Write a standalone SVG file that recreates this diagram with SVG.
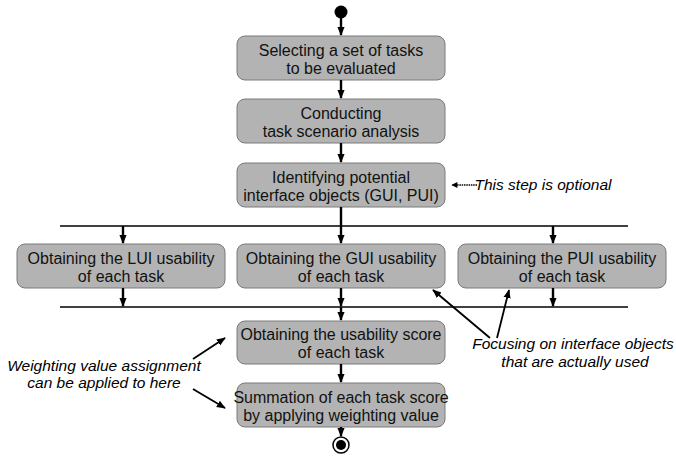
<svg xmlns="http://www.w3.org/2000/svg" width="676" height="467" viewBox="0 0 676 467">
  <defs>
    <marker id="ah" viewBox="0 0 10 10" refX="9" refY="5" markerWidth="7" markerHeight="6" orient="auto" markerUnits="userSpaceOnUse">
      <path d="M0,0 L10,5 L0,10 z" fill="#000"/>
    </marker>
    <marker id="ahs" viewBox="0 0 10 10" refX="9" refY="5" markerWidth="9" markerHeight="9" orient="auto" markerUnits="userSpaceOnUse">
      <path d="M0,1 L10,5 L0,9 z" fill="#000"/>
    </marker>
    <marker id="av" viewBox="0 0 10 10" refX="9" refY="5" markerWidth="9" markerHeight="10" orient="auto" markerUnits="userSpaceOnUse">
      <path d="M0,1 L10,5 L0,9 z" fill="#000"/>
    </marker>
  </defs>
  <style>
    .box { fill: #b3b3b3; stroke: #7a7a7a; stroke-width: 1; }
    .lbl { font-family: "Liberation Sans", Arial, sans-serif; font-size: 16px; fill: #111; text-anchor: middle; }
    .note { font-family: "Liberation Sans", Arial, sans-serif; font-size: 15.5px; font-style: italic; fill: #000; text-anchor: middle; }
    .flow { stroke: #000; stroke-width: 2.4; fill: none; marker-end: url(#av); }
    .bar { stroke: #000; stroke-width: 1.3; fill: none; }
    .ptr { stroke: #000; stroke-width: 1.8; fill: none; marker-end: url(#ahs); }
  </style>

  <g id="start"><circle cx="341" cy="12" r="6.5" fill="#000"/></g>

  <g id="select">
    <rect class="box" x="237" y="36" width="208" height="44" rx="8"/>
    <text class="lbl" x="341" y="56">Selecting a set of tasks</text>
    <text class="lbl" x="341" y="74">to be evaluated</text>
  </g>
  <g id="scenario">
    <rect class="box" x="237" y="99" width="208" height="44" rx="8"/>
    <text class="lbl" x="341" y="119">Conducting</text>
    <text class="lbl" x="341" y="137">task scenario analysis</text>
  </g>
  <g id="identify">
    <rect class="box" x="237" y="163" width="208" height="44" rx="8"/>
    <text class="lbl" x="341" y="183">Identifying potential</text>
    <text class="lbl" x="341" y="201">interface objects (GUI, PUI)</text>
  </g>
  <g id="lui">
    <rect class="box" x="17" y="244" width="208" height="44" rx="8"/>
    <text class="lbl" x="121" y="264">Obtaining the LUI usability</text>
    <text class="lbl" x="121" y="282">of each task</text>
  </g>
  <g id="gui">
    <rect class="box" x="237" y="244" width="208" height="44" rx="8"/>
    <text class="lbl" x="341" y="264">Obtaining the GUI usability</text>
    <text class="lbl" x="341" y="282">of each task</text>
  </g>
  <g id="pui">
    <rect class="box" x="458" y="244" width="208" height="44" rx="8"/>
    <text class="lbl" x="562" y="264">Obtaining the PUI usability</text>
    <text class="lbl" x="562" y="282">of each task</text>
  </g>
  <g id="score">
    <rect class="box" x="237" y="321" width="208" height="43" rx="8"/>
    <text class="lbl" x="341" y="340">Obtaining the usability score</text>
    <text class="lbl" x="341" y="358">of each task</text>
  </g>
  <g id="summation">
    <rect class="box" x="237" y="383" width="208" height="44" rx="8"/>
    <text class="lbl" x="341" y="403">Summation of each task score</text>
    <text class="lbl" x="341" y="421">by applying weighting value</text>
  </g>
  <g id="end">
    <circle cx="341" cy="445" r="8" fill="#fff" stroke="#000" stroke-width="1.5"/>
    <circle cx="341" cy="445" r="5" fill="#000"/>
  </g>

  <g id="notes">
    <text class="note" x="543" y="190">This step is optional</text>
    <text class="note" x="573" y="349">Focusing on interface objects</text>
    <text class="note" x="575" y="367">that are actually used</text>
    <text class="note" x="104" y="371">Weighting value assignment</text>
    <text class="note" x="104" y="388">can be applied to here</text>
  </g>

  <g id="connectors">
    <line class="bar" x1="60" y1="226" x2="628" y2="226"/>
    <line class="bar" x1="60" y1="307" x2="628" y2="307"/>
    <line class="flow" x1="341" y1="18" x2="341" y2="35"/>
    <line class="flow" x1="341" y1="80" x2="341" y2="98"/>
    <line class="flow" x1="341" y1="143" x2="341" y2="162"/>
    <line class="flow" x1="341" y1="207" x2="341" y2="243"/>
    <line class="flow" x1="123" y1="226" x2="123" y2="243"/>
    <line class="flow" x1="553" y1="226" x2="553" y2="243"/>
    <line class="flow" x1="123" y1="288" x2="123" y2="306"/>
    <line class="flow" x1="341" y1="288" x2="341" y2="306"/>
    <line class="flow" x1="553" y1="288" x2="553" y2="306"/>
    <line class="flow" x1="341" y1="307" x2="341" y2="320"/>
    <line class="flow" x1="341" y1="364" x2="341" y2="382"/>
    <line class="flow" x1="341" y1="427" x2="341" y2="436"/>
    <line stroke="#000" stroke-width="1.4" stroke-dasharray="1.5,0.8" x1="477" y1="185" x2="452" y2="185" marker-end="url(#ah)"/>
    <line class="ptr" x1="490" y1="338" x2="433" y2="290"/>
    <line class="ptr" x1="497" y1="338" x2="509" y2="290"/>
    <line class="ptr" x1="193" y1="359" x2="225" y2="338"/>
    <line class="ptr" x1="193" y1="389" x2="225" y2="408"/>
  </g>
</svg>
